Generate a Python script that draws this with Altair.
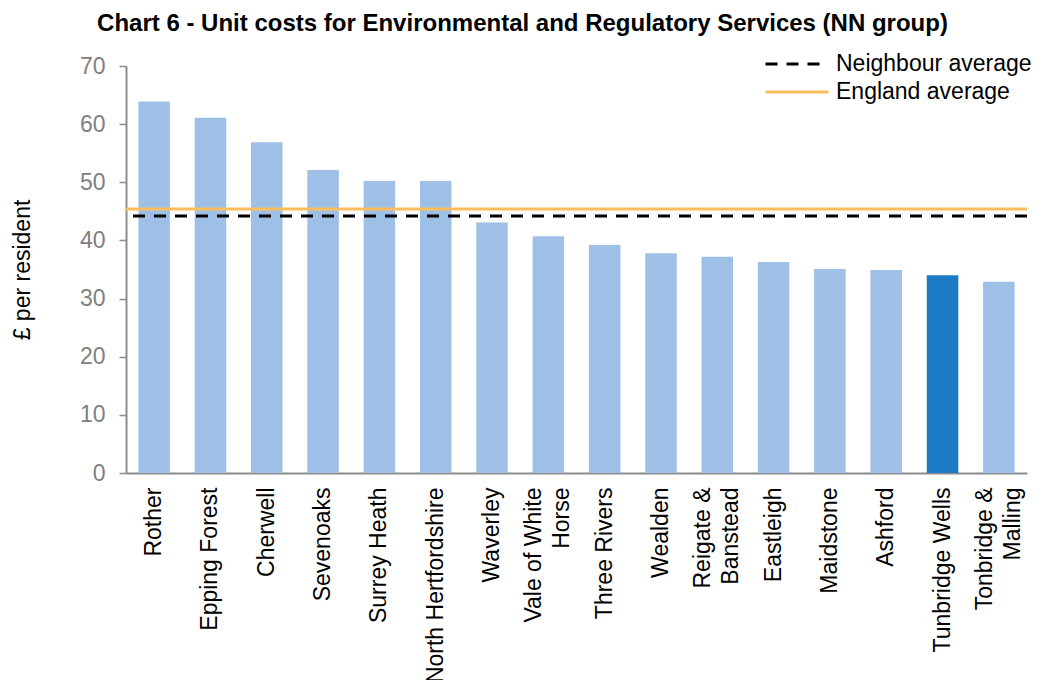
import altair as alt
import pandas as pd

# ---- data ----
councils = ["Rother", "Epping Forest", "Cherwell", "Sevenoaks", "Surrey Heath",
            "North Hertfordshire", "Waverley", "Vale of White Horse", "Three Rivers",
            "Wealden", "Reigate & Banstead", "Eastleigh", "Maidstone", "Ashford",
            "Tunbridge Wells", "Tonbridge & Malling"]
# display labels (| = line break)
labels = ["Rother", "Epping Forest", "Cherwell", "Sevenoaks", "Surrey Heath",
          "North Hertfordshire", "Waverley",
          "Vale of White|Horse\u00a0\u00a0\u00a0\u00a0\u00a0\u00a0", "Three Rivers",
          "Wealden", "Reigate &|Banstead", "Eastleigh", "Maidstone", "Ashford",
          "Tunbridge Wells", "Tonbridge &|Malling\u00a0\u00a0\u00a0\u00a0"]
values = [63.9, 61.1, 56.9, 52.1, 50.2, 50.2, 43.1, 40.7, 39.2, 37.8,
          37.2, 36.3, 35.1, 34.9, 34.0, 32.9]
highlight = "Tunbridge Wells"

series = ["Neighbour average", "England average"]
series_values = [44.2, 45.4]

FONT = "Liberation Sans"

bars_df = pd.DataFrame({"council": councils, "label": labels, "value": values})
lines_df = pd.DataFrame({"series": series, "value": series_values})

y_scale = alt.Scale(domain=[0, 70], nice=False)

legend_cfg = dict(title=None, orient="none", legendX=659, legendY=-14,
                  symbolType="M-3,0L3,0", symbolSize=441, symbolStrokeWidth=3,
                  labelFontSize=23, labelFont=FONT, labelColor="#000000",
                  labelOffset=27, rowPadding=4, labelLimit=0)

bars = alt.Chart(bars_df).mark_bar().encode(
    x=alt.X("label:N", sort=None,
            scale=alt.Scale(paddingInner=0.44, paddingOuter=0.22),
            axis=alt.Axis(title=None, labelAngle=270, ticks=False,
                          labelExpr="split(datum.label, '|')",
                          labelFontSize=23, labelColor="#000000",
                          labelPadding=14, labelLineHeight=28, labelLimit=0,
                          labelOffset={"condition": {"test": "indexof(datum.value, '|') >= 0",
                                                     "value": -14},
                                       "value": 0},
                          domainColor="#8c8c8c", domainWidth=2,
                          labelFont=FONT)),
    y=alt.Y("value:Q", scale=y_scale,
            axis=alt.Axis(title="£ per resident", values=list(range(0, 71, 10)),
                          grid=False, tickSize=7, tickColor="#8c8c8c",
                          domainColor="#8c8c8c", domainWidth=2, tickWidth=1.5,
                          labelFontSize=23, labelColor="#808080", labelPadding=14,
                          labelFont=FONT, titleFont=FONT, titleFontSize=23,
                          titleFontWeight="normal", titleColor="#000000",
                          titlePadding=45)),
    color=alt.condition(alt.datum.council == highlight,
                        alt.value("#1b7bc6"), alt.value("#9fc0e6")),
)

rules = alt.Chart(lines_df).mark_rule(strokeWidth=3).encode(
    y=alt.Y("value:Q", scale=y_scale),
    color=alt.Color("series:N",
                    scale=alt.Scale(domain=series, range=["#000000", "#fbbd5e"]),
                    legend=alt.Legend(**legend_cfg)),
    strokeDash=alt.StrokeDash("series:N",
                              scale=alt.Scale(domain=series, range=[[12, 9], [1, 0]]),
                              legend=alt.Legend(**legend_cfg)),
)

chart = alt.layer(bars, rules).properties(
    width=901, height=407,
    title=alt.Title("Chart 6 - Unit costs for Environmental and Regulatory Services (NN group)",
                    font=FONT, fontSize=24, fontWeight="bold", color="#000000",
                    anchor="middle", frame="group", dx=-54, offset=16),
    autosize=alt.AutoSizeParams(type="none"),
    padding={"left": 118, "top": 58, "right": 5, "bottom": 207},
).configure_view(stroke=None)

chart.save("out.html", embed_options={"renderer": "svg", "actions": False})
